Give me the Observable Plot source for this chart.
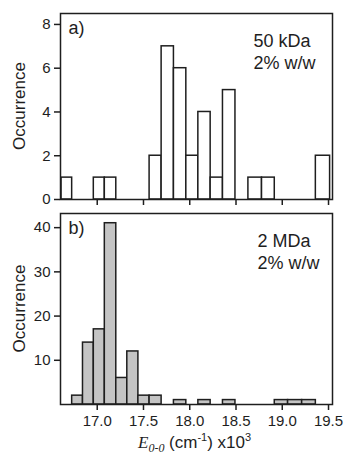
<!DOCTYPE html>
<html><head><meta charset="utf-8">
<script src="https://cdn.jsdelivr.net/npm/d3@7"></script>
<script src="https://cdn.jsdelivr.net/npm/@observablehq/plot@0.6"></script>
<style>
body{margin:0;background:#fff;overflow:hidden}
#chart svg{display:block}
</style>
</head><body><div id="chart"></div>
<script>
// Shared bin edges (x10^3 cm^-1)
const binEdges = [16.614, 16.729, 16.846, 16.963, 17.082, 17.206, 17.325, 17.445, 17.566, 17.696, 17.829, 17.963, 18.093, 18.226, 18.359, 18.494, 18.634, 18.781, 18.919, 19.063, 19.215, 19.363, 19.517];
// Panel a) 50 kDa counts per bin
const countsA = [1, 0, 0, 1, 1, 0, 0, 0, 2, 7, 6, 2, 4, 1, 5, 0, 1, 1, 0, 0, 0, 2];
// Panel b) 2 MDa counts per bin
const countsB = [0, 2, 14, 17, 41, 6, 12, 2, 2, 0, 1, 0, 1, 0, 1, 0, 0, 0, 1, 1, 1, 0];
const xTicks = [17.0, 17.5, 18.0, 18.5, 19.0, 19.5];
const yTicksA = [0, 2, 4, 6, 8];
const yTicksB = [10, 20, 30, 40];
const panelA = {tag: "a)", note: "50 kDa\n2% w/w"};
const panelB = {tag: "b)", note: "2 MDa\n2% w/w"};
const yLabel = "Occurrence";

function bins(counts) {
  return counts.map((c, i) => ({x1: binEdges[i], x2: binEdges[i + 1], c})).filter(d => d.c > 0);
}

const ink = "#1e1e1e";
const font = "'Liberation Sans', Arial, Helvetica, sans-serif";
const serif = "'Liberation Serif', 'Times New Roman', serif";
const xDomain = [16.603, 19.543];

function panel({counts, yDomain, yTicks, fill, info, height, marginTop, marginBottom, noteDx, xLabels}) {
  const svg = Plot.plot({
    width: 344, height, marginLeft: 60, marginRight: 12, marginTop, marginBottom,
    style: {fontFamily: font, fontSize: "15px", color: ink, background: "white", overflow: "visible"},
    x: {domain: xDomain},
    y: {domain: yDomain},
    marks: [
      Plot.rectY(bins(counts), {x1: "x1", x2: "x2", y: "c", fill, stroke: ink, strokeWidth: 1.5}),
      Plot.frame({stroke: ink, strokeWidth: 1.5}),
      Plot.axisX({ticks: xTicks, tickSize: 6, tickPadding: 5, strokeWidth: 1.5, label: null,
        tickFormat: xLabels ? d3.format(".1f") : () => ""}),
      Plot.axisY({ticks: yTicks, tickSize: 6, tickPadding: 4, strokeWidth: 1.5, label: null}),
      Plot.text([info.tag], {text: d => d, frameAnchor: "top-left", textAnchor: "start", lineAnchor: "top",
        dx: 8, dy: 8, fontSize: 18, fill: ink}),
      Plot.text([info.note], {text: d => d, frameAnchor: "top-left", textAnchor: "start", lineAnchor: "top",
        dx: noteDx, dy: 19, fontSize: 18, lineHeight: 1.17, fill: ink})
    ]
  });
  const h = height - marginTop - marginBottom;
  d3.select(svg).append("text")
    .attr("transform", `translate(25,${marginTop + h / 2}) rotate(-90)`)
    .attr("text-anchor", "middle")
    .attr("font-family", font).attr("font-size", 17).attr("fill", ink)
    .text(yLabel);
  return svg;
}

const svgA = panel({counts: countsA, yDomain: [0, 8.5], yTicks: yTicksA, fill: "white", info: panelA,
  height: 211, marginTop: 13, marginBottom: 12, noteDx: 193, xLabels: false});
const svgB = panel({counts: countsB, yDomain: [0, 43.2], yTicks: yTicksB, fill: "#c4c4c4", info: panelB,
  height: 244, marginTop: 2, marginBottom: 51, noteDx: 197, xLabels: true});

// x-axis label with italic serif E and sub/superscripts
const xl = d3.select(svgB).append("text")
  .attr("x", 138).attr("y", 237).attr("text-anchor", "start")
  .attr("font-family", font).attr("font-size", 17).attr("fill", ink);
xl.append("tspan").attr("font-family", serif).attr("font-style", "italic").text("E");
xl.append("tspan").attr("font-family", serif).attr("font-style", "italic")
  .attr("font-size", 12).attr("dy", 4).text("0-0");
xl.append("tspan").attr("dy", -4).text(" (cm");
xl.append("tspan").attr("font-size", 11).attr("dy", -7).text("-1");
xl.append("tspan").attr("dy", 7).text(") x10");
xl.append("tspan").attr("font-size", 11).attr("dy", -7).text("3");

document.getElementById("chart").append(svgA, svgB);
</script>
</body></html>
